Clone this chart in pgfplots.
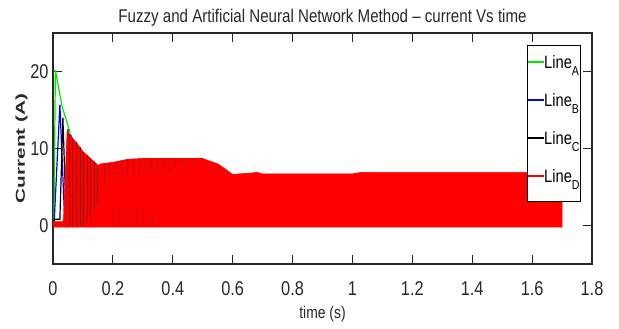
\documentclass[border=0pt]{standalone}
\usepackage{pgfplots}
\pgfplotsset{compat=1.18}
\usepackage{fontspec}
\setmainfont{Liberation Sans}[FakeStretch=0.82]
\newfontfamily\ylabfont{Liberation Sans}[FakeStretch=1.6]
\definecolor{axgray}{RGB}{40,40,40}
\definecolor{lgreen}{RGB}{0,230,0}
\definecolor{lblue}{RGB}{0,0,255}
\definecolor{lred}{RGB}{255,0,0}
\definecolor{stripeA}{RGB}{140,0,0}
\definecolor{stripeB}{RGB}{185,0,0}
\definecolor{stripeC}{RGB}{205,0,0}
\newcommand{\lsub}[1]{\raisebox{-7bp}{\fontsize{13}{13}\selectfont #1}}
\newcommand{\limg}[1]{\textcolor{#1}{\rule[5.5bp]{16bp}{1.6bp}}}
\begin{document}
\begin{tikzpicture}
\begin{axis}[
  scale only axis, width=539bp, height=231bp,
  xmin=0, xmax=1.8, ymin=-5, ymax=25,
  xtick={0,0.2,0.4,0.6,0.8,1,1.2,1.4,1.6,1.8},
  xticklabels={0,0.2,0.4,0.6,0.8,1,1.2,1.4,1.6,1.8},
  ytick={0,10,20},
  yticklabels={0,10,20},
  tick align=inside, major tick length=9bp,
  axis line style={line width=1.2bp, draw=axgray},
  every tick/.style={axgray, line width=1bp},
  tick label style={font=\fontsize{20}{20}\selectfont, text=axgray},
  /pgf/number format/assume math mode=true,
  xticklabel style={yshift=-14bp},
  yticklabel style={xshift=-1bp},
  unbounded coords=jump,
  title={Fuzzy and Artificial Neural Network Method -- current Vs time},
  title style={font=\fontsize{18.5}{18.5}\selectfont, text=axgray, yshift=-3bp},
  xlabel={time (s)},
  xlabel style={font=\fontsize{17}{17}\selectfont, text=axgray, yshift=-4bp},
  ylabel={\ylabfont\bfseries Current (A)},
  ylabel style={font=\fontsize{13}{13}\selectfont, text=axgray, yshift=-4bp},
  legend style={at={(0.879,0.948)}, anchor=north west, draw=black, thick,
    fill=white, font=\fontsize{18}{18}\selectfont, row sep=10bp, inner xsep=0bp, inner ysep=7bp,
    nodes={inner xsep=1bp, text depth=10bp, text height=14bp}},
  legend image code/.code={},
  legend cell align=left,
]
% Line A (green)
\addplot[color=lgreen, line width=1.2bp] coordinates {
 (0,0.2) (0.003,0.3) (0.008,20.2) (0.03,15.5) (0.057,12.1) (0.06,0.2)
};
\addlegendentry{\limg{lgreen}Line\lsub{A}}
% Line B (blue)
\addplot[color=lblue, line width=1.2bp] coordinates {
 (0,0.3) (0.004,0.5) (0.023,15.7) (0.04,-0.2) (0.06,11.8) (0.066,-0.2) (0.08,10.6) (0.085,-0.2)
};
\addlegendentry{\limg{lblue}Line\lsub{B}}
% Line C (black)
\addplot[color=black, line width=1.2bp] coordinates {
 (0,0.6) (0.008,0.8) (0.023,0.8) (0.033,14.0) (0.045,-0.2) (0.05,12.5)
};
\addlegendentry{\limg{black}Line\lsub{C}}
% Line D (red) - dense oscillation shown as filled band
\addplot[color=lred, fill=lred, line width=0.6bp] coordinates {
 (0,-0.2) (0,0.5) (0.035,0.5) (0.047,12.2) (0.06,11.6) (0.083,10.5) (0.1,9.6)
 (0.12,8.9) (0.14,8.2) (0.15,7.8) (0.16,8.0) (0.2,8.2) (0.25,8.6) (0.3,8.7)
 (0.5,8.7) (0.52,8.4) (0.55,8.0) (0.58,7.2) (0.6,6.6) (0.62,6.7) (0.66,6.8)
 (0.68,6.9) (0.7,6.7) (1.0,6.7) (1.03,6.9) (1.7,6.9) (1.7,-0.2) (0,-0.2)
};
\addlegendentry{\limg{lred}Line\lsub{D}}
% darker striations of the oscillating traces
\addplot[forget plot, color=stripeA, line width=0.9bp] coordinates {
 (0.054,0) (0.054,11.9) (0.054,nan)
 (0.066,0) (0.066,11.3) (0.066,nan)
 (0.078,0) (0.078,10.8) (0.078,nan)
 (0.09,0) (0.09,10.2) (0.09,nan)
 (0.102,0) (0.102,9.5) (0.102,nan)
 (0.114,0.5) (0.114,9.1) (0.114,nan)
 (0.126,1) (0.126,8.7) (0.126,nan)
 (0.138,2) (0.138,8.3) (0.138,nan)
 (0.15,3) (0.15,7.8)
};
\addplot[forget plot, color=stripeB, line width=0.8bp] coordinates {
 (0.17,5.5) (0.17,8.0) (0.17,nan)
 (0.19,5.8) (0.19,8.1) (0.19,nan)
 (0.21,6.0) (0.21,8.3) (0.21,nan)
 (0.23,6.2) (0.23,8.4) (0.23,nan)
 (0.25,6.5) (0.25,8.6) (0.25,nan)
 (0.27,6.8) (0.27,8.7) (0.27,nan)
 (0.29,7.0) (0.29,8.7) (0.29,nan)
 (0.31,7.0) (0.31,8.7) (0.31,nan)
 (0.33,7.2) (0.33,8.7) (0.33,nan)
 (0.35,7.2) (0.35,8.7) (0.35,nan)
 (0.37,7.3) (0.37,8.7) (0.37,nan)
 (0.39,7.4) (0.39,8.7) (0.39,nan)
 (0.41,7.5) (0.41,8.7) (0.41,nan)
 (0.43,7.6) (0.43,8.7) (0.43,nan)
 (0.45,7.7) (0.45,8.7) (0.45,nan)
 (0.47,7.8) (0.47,8.7)
};
\addplot[forget plot, color=stripeC, line width=0.8bp] coordinates {
 (0.2,0) (0.2,2.0) (0.2,nan)
 (0.22,0) (0.22,2.2) (0.22,nan)
 (0.24,0) (0.24,2.5) (0.24,nan)
 (0.26,0) (0.26,2.3) (0.26,nan)
 (0.28,0) (0.28,2.2) (0.28,nan)
 (0.30,0) (0.30,2.0) (0.30,nan)
 (0.32,0) (0.32,1.8) (0.32,nan)
 (0.34,0) (0.34,1.6)
};
\coordinate (ll) at (rel axis cs:0,0);
\coordinate (ur) at (rel axis cs:1,1);
\end{axis}
\path ([shift={(-53bp,-65bp)}]ll) rectangle ([shift={(27bp,33bp)}]ur);
\end{tikzpicture}
\end{document}
